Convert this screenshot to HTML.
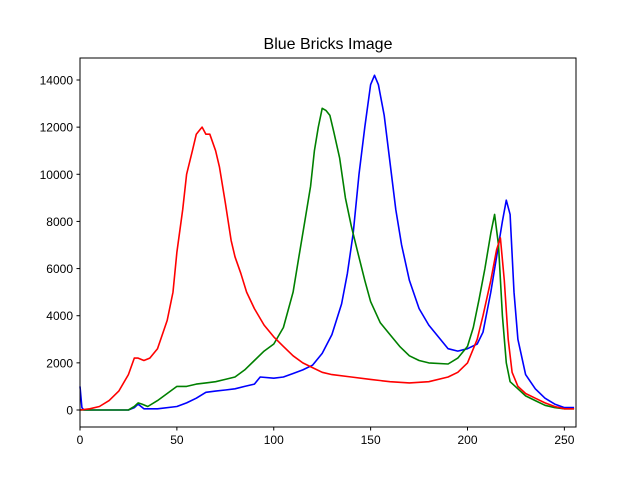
<!DOCTYPE html>
<html><head><meta charset="utf-8"><style>
body{margin:0;background:#fff;}
svg{display:block;font-family:"Liberation Sans","DejaVu Sans",sans-serif;}
</style></head><body>
<svg id="chart" width="640" height="480">
<rect x="0" y="0" width="640" height="480" fill="#fff"/>
<text x="328" y="49" text-anchor="middle" font-size="16">Blue Bricks Image</text>
<g id="plot"></g>
<rect x="80" y="58" width="496" height="369" fill="none" stroke="#000" stroke-width="1"/>
</svg>
<script>
const xTicks=[0,50,100,150,200,250];
const yTicks=[0,2000,4000,6000,8000,10000,12000,14000];
const redX=[0,5,10,15,20,25,28,30,33,36,40,45,48,50,53,55,58,60,62,63,65,67,70,72,75,78,80,83,86,90,95,100,105,110,115,120,125,130,140,150,160,170,180,190,195,200,205,208,212,215,217,219,221,223,226,230,235,240,245,250,255];
const redY=[0,50,150,400,800,1500,2200,2200,2100,2200,2600,3800,5000,6700,8500,10000,11000,11700,11900,12000,11700,11700,11000,10300,8800,7200,6500,5800,5000,4300,3600,3100,2700,2300,2000,1800,1600,1500,1400,1300,1200,1150,1200,1400,1600,2000,3000,4000,5500,6800,7300,5500,3000,1600,1000,700,500,300,150,50,50];
const greenX=[0,10,25,28,30,32,35,40,45,50,55,60,65,70,75,80,85,90,95,100,105,110,113,116,119,121,123,125,127,129,131,134,137,140,143,147,150,155,160,165,170,175,180,190,195,200,203,206,209,212,214,216,218,220,222,226,230,235,240,245,250,255];
const greenY=[0,0,0,150,300,250,150,400,700,1000,1000,1100,1150,1200,1300,1400,1700,2100,2500,2800,3500,5000,6500,8000,9500,11000,12000,12800,12700,12500,11800,10700,9000,7800,6800,5500,4600,3700,3200,2700,2300,2100,2000,1950,2200,2700,3500,4700,6000,7500,8300,7000,4000,2000,1200,900,600,400,200,100,50,50];
const blueX=[0,1,2,10,25,28,30,33,40,50,55,60,65,70,75,80,85,90,93,100,105,110,115,120,125,130,135,138,141,144,147,150,152,154,157,160,163,166,170,175,180,185,190,195,200,205,208,212,215,218,220,222,224,226,230,235,240,245,250,255];
const blueY=[1000,100,0,0,0,100,250,50,50,150,300,500,750,800,850,900,1000,1100,1400,1350,1400,1550,1700,1900,2400,3200,4500,5800,7500,10000,12000,13800,14200,13800,12500,10500,8500,7000,5500,4300,3600,3100,2600,2500,2600,2800,3300,5000,6500,8000,8900,8300,5000,3000,1500,900,500,250,100,100];
const NS='http://www.w3.org/2000/svg';
const L=80,R=576,T=58,B=427,XMIN=0,XMAX=256,YMIN=-721,YMAX=14933;
const sx=v=>L+(v-XMIN)/(XMAX-XMIN)*(R-L);
const sy=v=>B-(v-YMIN)/(YMAX-YMIN)*(B-T);
const g=document.getElementById('plot');
function mk(tag,attrs){const e=document.createElementNS(NS,tag);for(const k in attrs)e.setAttribute(k,attrs[k]);g.appendChild(e);return e;}
xTicks.forEach(t=>{
  const l=mk('line',{x1:sx(t),x2:sx(t),y1:B,y2:B+3.5,stroke:'#000'});
  
  
  const tx=mk('text',{x:sx(t),y:B+17,'text-anchor':'middle','font-size':'12'});
  tx.textContent=t;
  
  
});
yTicks.forEach(t=>{
  const l=mk('line',{x1:L-3.5,x2:L,y1:sy(t),y2:sy(t),stroke:'#000'});
  
  
  const tx=mk('text',{x:L-7,y:sy(t)+4.5,'text-anchor':'end','font-size':'12'});
  tx.textContent=t;
  
  
});
function series(xs,ys,color,name){
  const pts=xs.map((x,i)=>sx(x).toFixed(1)+','+sy(ys[i]).toFixed(1)).join(' ');
  const p=mk('polyline',{points:pts,fill:'none',stroke:color,'stroke-width':'1.6','stroke-linejoin':'round'});
  
  
}
series(blueX,blueY,'#0000ff','blue-channel-line');
series(greenX,greenY,'#008000','green-channel-line');
series(redX,redY,'#ff0000','red-channel-line');
</script>
</body></html>
